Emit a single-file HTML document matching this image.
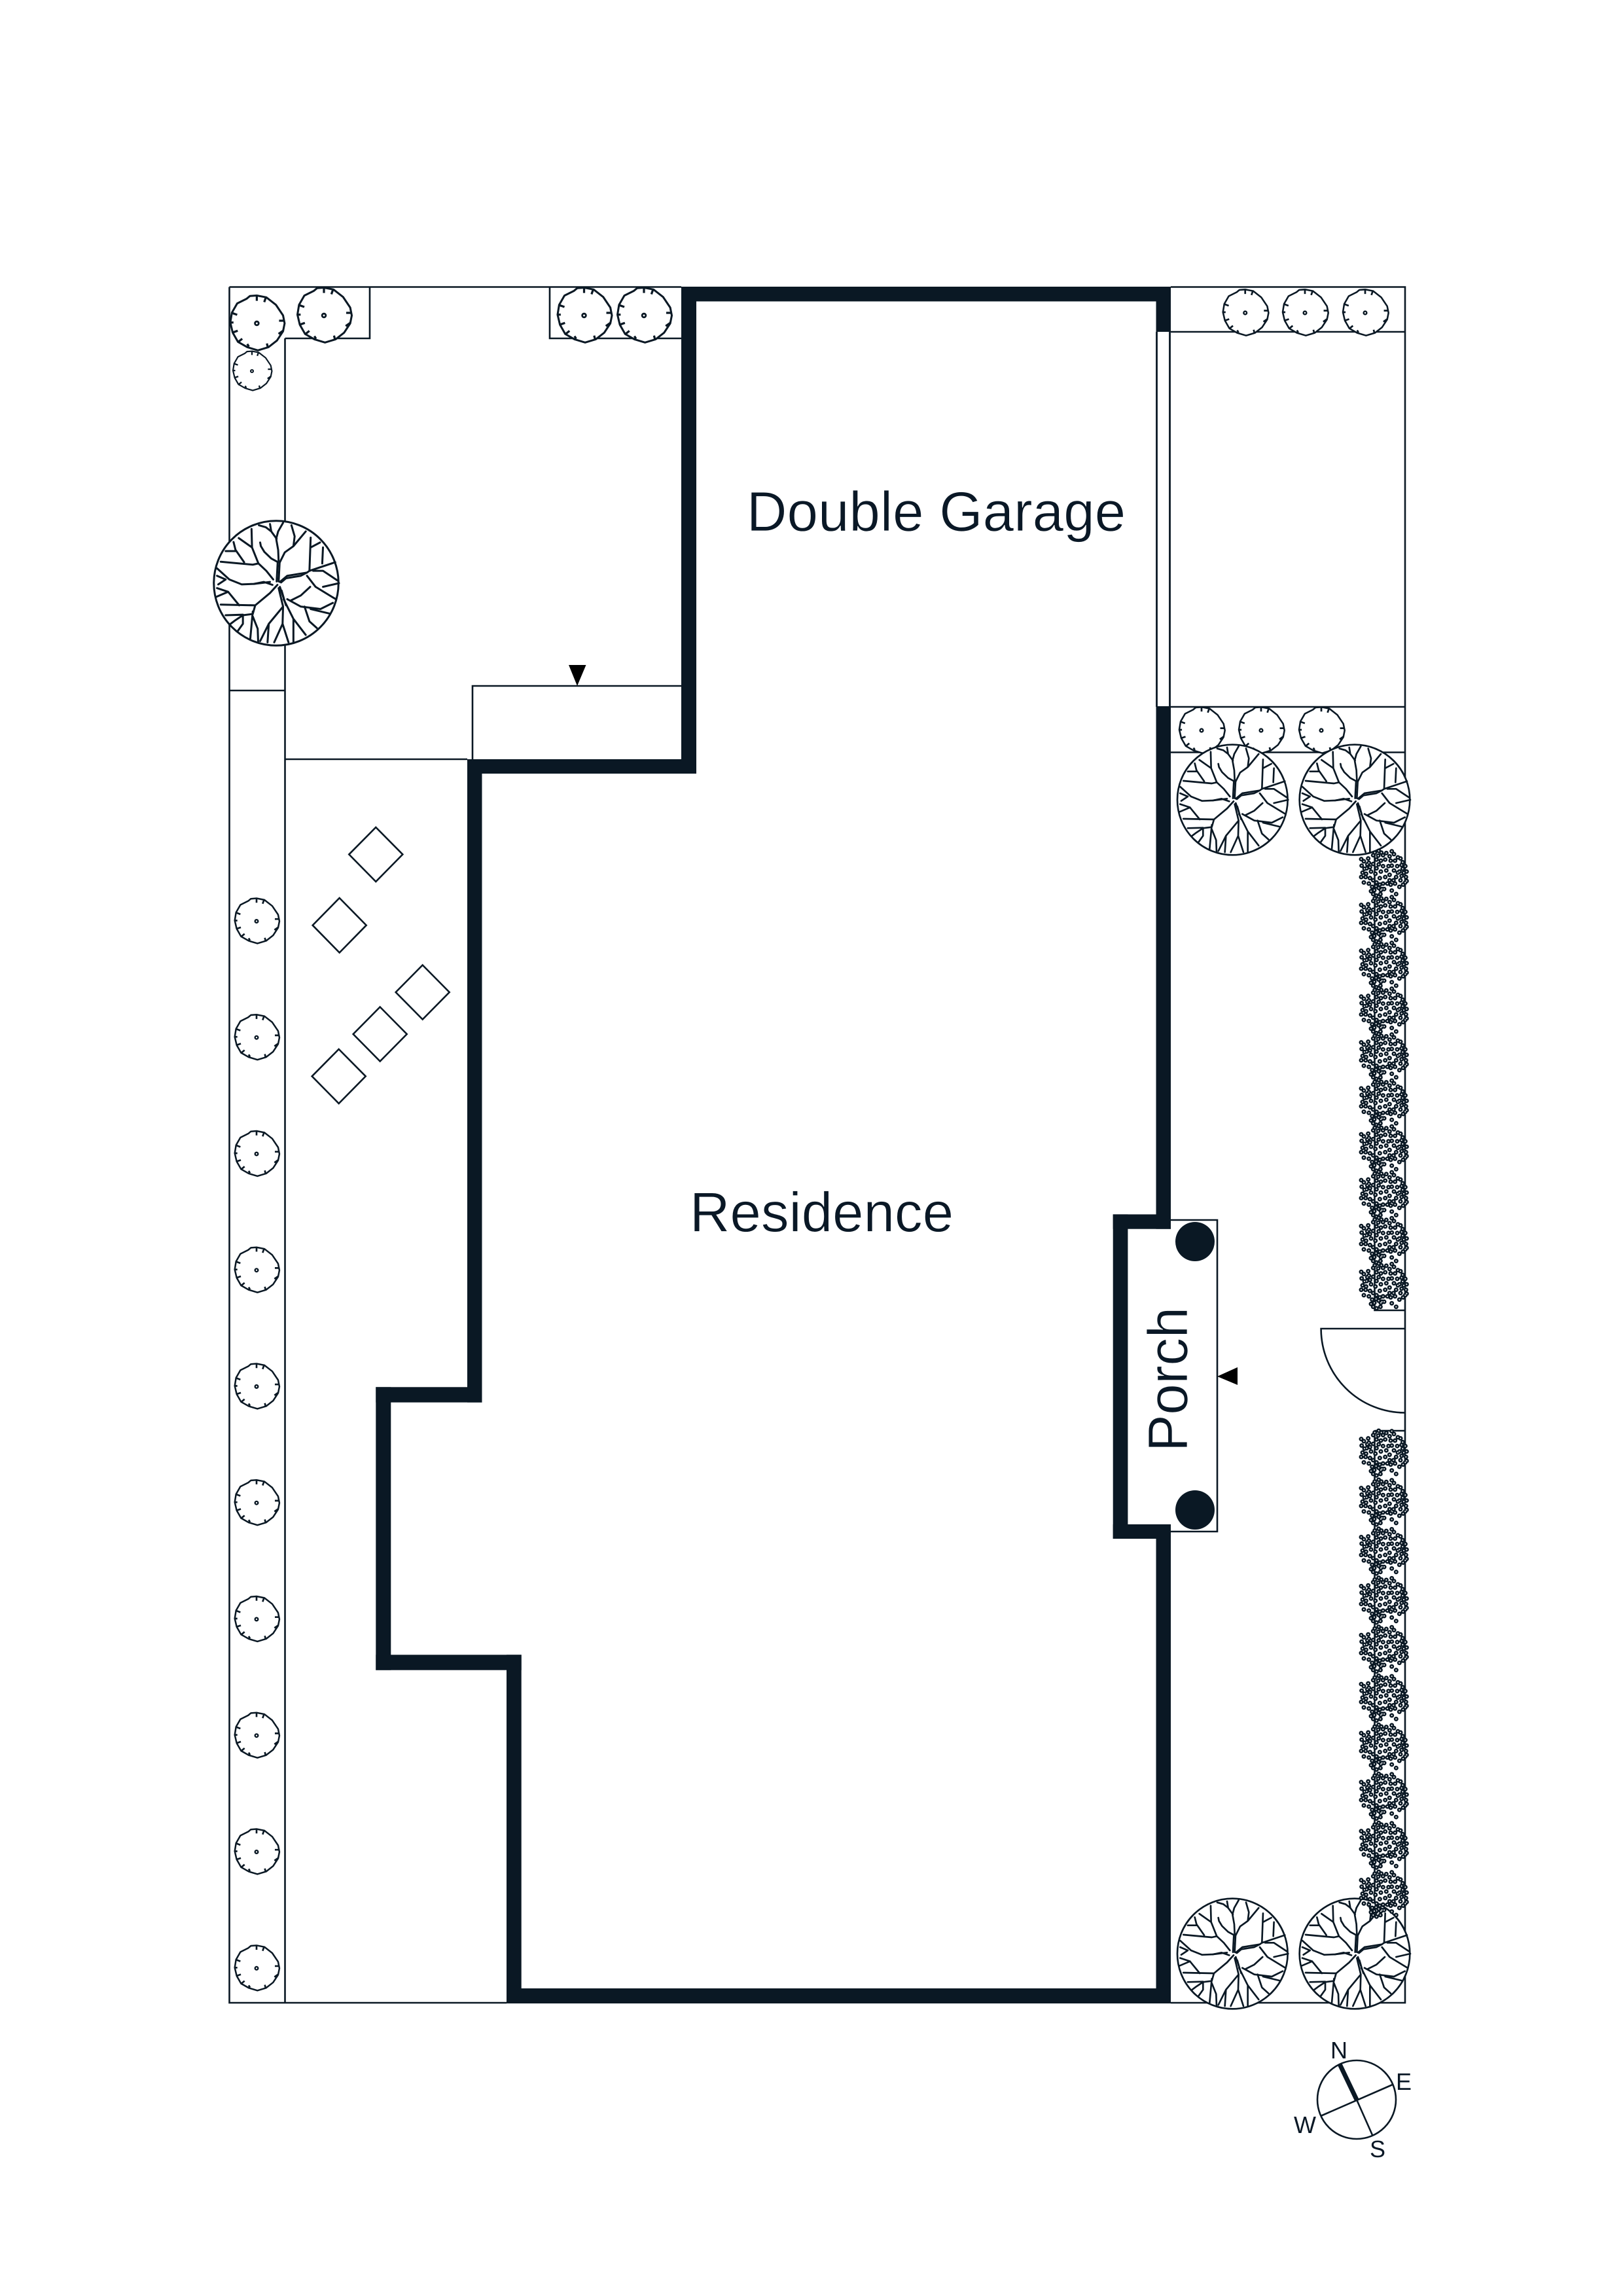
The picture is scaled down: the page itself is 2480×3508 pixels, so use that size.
<!DOCTYPE html>
<html lang="en">
<head>
<meta charset="utf-8">
<title>Site Plan</title>
<style>
html,body{margin:0;padding:0;background:#fff;}
svg{display:block;}
text{font-family:"Liberation Sans",sans-serif;fill:#0a1826;stroke:#fff;stroke-width:.7px;}
</style>
</head>
<body>
<svg xmlns="http://www.w3.org/2000/svg" width="2480" height="3508" viewBox="0 0 2480 3508">
<defs>
<g id="tree" fill="none" stroke="#0a1824" stroke-width="8" stroke-linejoin="round" stroke-linecap="round" transform="translate(-370,-255)">
<circle cx="370" cy="255" r="253" fill="#fff"/>
<path d="M372 248L376 172L380 165L378 120L370 75L378 45L398 10"/>
<path d="M380 248L384 172"/>
<path d="M372 75L350 45L328 28L300 20M350 45L345 15"/>
<path d="M378 170L350 155L322 128L308 105L305 90"/>
<path d="M385 170L405 130L440 105L445 65L432 20M440 105L490 45"/>
<path d="M358 240L330 205L298 175L272 110L218 72M272 110L270 35M298 175L275 180L145 168M240 170L205 120L197 88M205 125L165 125"/>
<path d="M345 250L280 258L230 260L180 240L130 195M165 240L130 225M165 240L135 260"/>
<path d="M355 262L320 250L280 258"/>
<path d="M375 262L345 295L285 345L145 342M285 345L275 380L235 385L205 405L185 420M235 385L235 420L215 448M235 383L165 385M275 370L265 480M275 390L295 440L297 495"/>
<path d="M220 345L175 290L128 310M175 290L130 275"/>
<path d="M380 275L398 350L340 420L305 490M398 350L396 420L362 495M396 420L420 495M340 420L335 495"/>
<path d="M385 270L410 345L402 320L392 285M400 320L440 400L490 465M440 400L440 495"/>
<path d="M415 320L470 350L550 360L600 335M485 350L505 410L535 437M510 360L585 378"/>
<path d="M430 325L470 305L508 270"/>
<path d="M385 250L415 225L495 212L505 205L610 170M505 205L510 70M510 110L548 90M557 175L560 110"/>
<path d="M495 225L530 270L612 320M560 270L625 255M520 205L560 205L620 245"/>
<path d="M390 252L410 235L470 225L495 212"/>
</g>
<g id="shrub" stroke="#0a1824" stroke-linejoin="round">
<path fill="#fff" stroke-width="7.5" d="M0-105L36-98L72-70L99-30L105 0L99 30L76 65L44 90L4 102L-36 90L-71 70L-91 35L-100-3L-94-40L-74-75L-38-93L-26-103Z"/>
<path fill="none" stroke-width="8" d="M0-103V-85M34-97L28-80M104-10H84M99 28L82 40M42 92L38 76M-30 88L-36 78M-72 72L-55 58M-92 35L-72 28M-98-3H-88M-96-40L-74-32"/>
<circle r="7" fill="#fff" stroke-width="7"/>
</g>
<path id="hdots" d="M60 68h.1M72 78h.1M62 98h.1M85 110h.1M60 150h.1M72 175h.1M66 130h.1M82 135h.1M95 85h.1M75 112h.1M115 50h.1M130 70h.1M115 90h.1M130 110h.1M105 125h.1M125 135h.1M100 155h.1M115 165h.1M95 180h.1M110 195h.1M130 175h.1M140 200h.1M120 210h.1M105 215h.1M155 205h.1M130 235h.1M140 30h.1M160 50h.1M175 40h.1M190 55h.1M210 45h.1M150 75h.1M170 70h.1M195 75h.1M215 75h.1M240 65h.1M160 100h.1M185 100h.1M225 100h.1M245 95h.1M262 100h.1M210 120h.1M235 125h.1M255 130h.1M265 150h.1M150 125h.1M170 150h.1M145 155h.1M190 140h.1M220 150h.1M240 165h.1M262 175h.1M215 180h.1M235 195h.1M180 180h.1M195 185h.1M200 212h.1M220 228h.1M160 180h.1M145 185h.1M150 210h.1M165 205h.1M88 92h.1M100 105h.1M122 38h.1M140 92h.1M175 120h.1M200 98h.1M250 112h.1M228 130h.1M190 165h.1M245 145h.1M128 192h.1M115 228h.1M148 228h.1M250 82h.1M228 60h.1M268 125h.1M252 185h.1M152 38h.1M200 32h.1M138 52h.1M80 150h.1M92 65h.1M268 168h.1M208 165h.1" fill="none" stroke-linecap="round"/>
<g id="hedge">
<use href="#hdots" stroke="#0a1824" stroke-width="21"/>
<use href="#hdots" stroke="#fff" stroke-width="6"/>
</g>
</defs>

<rect width="2480" height="3508" fill="#fff"/>

<!-- thin site lines -->
<g fill="none" stroke="#0a1824" stroke-width="2.6">
<path d="M350.5 438.5H1041M350.5 438.5V3060H774M435.5 517V3060M435.5 517H565V438.5M840 438.5V517H1041"/>
<path d="M350.5 1055H435.5M435.5 1160H714M722 1160V1048H1041"/>
<path d="M1789 438.5H2147V3060H1789M1789 507H2147M1789 1080H2147M1789 1149.5H2147"/>
<path d="M2147 2030H2018.6A128.4 128.4 0 0 0 2147 2158.5"/>
<path d="M2100.5 1298V2002H2147M2100.5 2186H2147M2100.5 2186V2925"/>
<path d="M1789 1864H1860V2340H1789"/>
</g>
<path d="M1767.5 507V1080M1787.5 507V1080" stroke="#0a1824" stroke-width="2.8" fill="none"/>

<!-- walls -->
<g fill="#0a1824">
<rect x="1041" y="438" width="748" height="22.5"/>
<rect x="1041" y="438" width="23" height="744"/>
<rect x="714" y="1160" width="350" height="22"/>
<rect x="714" y="1160" width="22.5" height="982.7"/>
<rect x="574.3" y="2119.3" width="162.2" height="23.4"/>
<rect x="574.3" y="2119.3" width="23" height="432.4"/>
<rect x="574.3" y="2528.3" width="222.4" height="23.4"/>
<rect x="774" y="2528.3" width="22.7" height="532.7"/>
<rect x="774" y="3038" width="1015" height="23"/>
<rect x="1766.5" y="438" width="22.5" height="69"/>
<rect x="1766.5" y="1079" width="22.5" height="798.7"/>
<rect x="1766.5" y="2329" width="22.5" height="732"/>
<rect x="1700.7" y="1855.4" width="88.3" height="22.3"/>
<rect x="1700.7" y="1855.4" width="22.7" height="495.6"/>
<rect x="1700.7" y="2329" width="88.3" height="22"/>
<circle cx="1826" cy="1897" r="30"/>
<circle cx="1826" cy="2307" r="30"/>
<polygon points="869,1016 895.5,1016 882,1048" fill="#000"/>
<polygon points="1860,2103 1891,2089 1891,2116" fill="#000"/>
</g>

<!-- diamonds -->
<g fill="#fff" stroke="#0a1824" stroke-width="2.6" stroke-linejoin="miter">
<polygon points="574.3,1264 615.3,1305.4 574.3,1347 533.3,1305.4"/>
<polygon points="518.7,1372 559.7,1413.7 518.7,1455.5 477.7,1413.7"/>
<polygon points="645.7,1474.5 686.7,1516 645.7,1557.5 604.7,1516"/>
<polygon points="580.7,1538.5 621.7,1580 580.7,1621.5 539.7,1580"/>
<polygon points="517.7,1603 558.7,1644.4 517.7,1686 476.7,1644.4"/>
</g>

<!-- shrubs -->
<use href="#shrub" transform="translate(392.4,494) scale(.405)"/>
<use href="#shrub" transform="translate(495,482) scale(.405)"/>
<use href="#shrub" transform="translate(385,567) scale(.29)"/>
<use href="#shrub" transform="translate(892.5,482) scale(.405)"/>
<use href="#shrub" transform="translate(984,482) scale(.405)"/>
<use href="#shrub" transform="translate(1902.7,478) scale(.34)"/>
<use href="#shrub" transform="translate(1994,478) scale(.34)"/>
<use href="#shrub" transform="translate(2086,478) scale(.34)"/>
<use href="#shrub" transform="translate(1836,1116) scale(.34)"/>
<use href="#shrub" transform="translate(1927,1116) scale(.34)"/>
<use href="#shrub" transform="translate(2019,1116) scale(.34)"/>
<use href="#shrub" transform="translate(392,1407.5) scale(.333)"/>
<use href="#shrub" transform="translate(392,1585.2) scale(.333)"/>
<use href="#shrub" transform="translate(392,1763) scale(.333)"/>
<use href="#shrub" transform="translate(392,1940.7) scale(.333)"/>
<use href="#shrub" transform="translate(392,2118.5) scale(.333)"/>
<use href="#shrub" transform="translate(392,2296.2) scale(.333)"/>
<use href="#shrub" transform="translate(392,2474) scale(.333)"/>
<use href="#shrub" transform="translate(392,2651.7) scale(.333)"/>
<use href="#shrub" transform="translate(392,2829.5) scale(.333)"/>
<use href="#shrub" transform="translate(392,3007.3) scale(.333)"/>

<!-- trees -->
<g transform="translate(422,891) scale(.3765)"><use href="#tree"/></g>
<g transform="translate(1883.3,1222) scale(.3333)"><use href="#tree"/></g>
<g transform="translate(2070,1222) scale(.3333)"><use href="#tree"/></g>
<g transform="translate(1883.3,2985) scale(.3333)"><use href="#tree"/></g>
<g transform="translate(2070,2985) scale(.3333)"><use href="#tree"/></g>

<!-- hedges -->
<g transform="translate(2060,1290) scale(.3333)"><use href="#hedge"/></g>
<g transform="translate(2060,1360) scale(.3333)"><use href="#hedge"/></g>
<g transform="translate(2060,1430) scale(.3333)"><use href="#hedge"/></g>
<g transform="translate(2060,1500) scale(.3333)"><use href="#hedge"/></g>
<g transform="translate(2060,1570) scale(.3333)"><use href="#hedge"/></g>
<g transform="translate(2060,1640.3) scale(.3333)"><use href="#hedge"/></g>
<g transform="translate(2060,1710.4) scale(.3333)"><use href="#hedge"/></g>
<g transform="translate(2060,1780.5) scale(.3333)"><use href="#hedge"/></g>
<g transform="translate(2060,1850.6) scale(.3333)"><use href="#hedge"/></g>
<g transform="translate(2060,1920.6) scale(.3333)"><use href="#hedge"/></g>
<g transform="translate(2060,2176) scale(.3333)"><use href="#hedge"/></g>
<g transform="translate(2060,2250.9) scale(.3333)"><use href="#hedge"/></g>
<g transform="translate(2060,2325.8) scale(.3333)"><use href="#hedge"/></g>
<g transform="translate(2060,2400.7) scale(.3333)"><use href="#hedge"/></g>
<g transform="translate(2060,2475.6) scale(.3333)"><use href="#hedge"/></g>
<g transform="translate(2060,2550.4) scale(.3333)"><use href="#hedge"/></g>
<g transform="translate(2060,2625.3) scale(.3333)"><use href="#hedge"/></g>
<g transform="translate(2060,2700.2) scale(.3333)"><use href="#hedge"/></g>
<g transform="translate(2060,2775.1) scale(.3333)"><use href="#hedge"/></g>
<g transform="translate(2060,2850) scale(.3333)"><use href="#hedge"/></g>

<!-- labels -->
<text x="1141" y="811" font-size="85" textLength="579" lengthAdjust="spacing">Double Garage</text>
<text x="1054" y="1881.7" font-size="85" textLength="403" lengthAdjust="spacing">Residence</text>
<text transform="translate(1814,2218) rotate(-90)" font-size="85" textLength="221" lengthAdjust="spacing">Porch</text>

<!-- compass -->
<g fill="none" stroke="#0a1824">
<circle cx="2073" cy="3208" r="60" stroke-width="2.6"/>
<path d="M2073 3208L2097.7 3263.6M2018 3233L2128 3185" stroke-width="2.6"/>
<path d="M2047 3153.6L2073 3208" stroke-width="7"/>
</g>
<text x="2033" y="3145" font-size="36" style="stroke:none">N</text>
<text x="2133" y="3193" font-size="36" style="stroke:none">E</text>
<text x="1977" y="3259" font-size="36" style="stroke:none">W</text>
<text x="2093" y="3296" font-size="36" style="stroke:none">S</text>
</svg>
</body>
</html>
